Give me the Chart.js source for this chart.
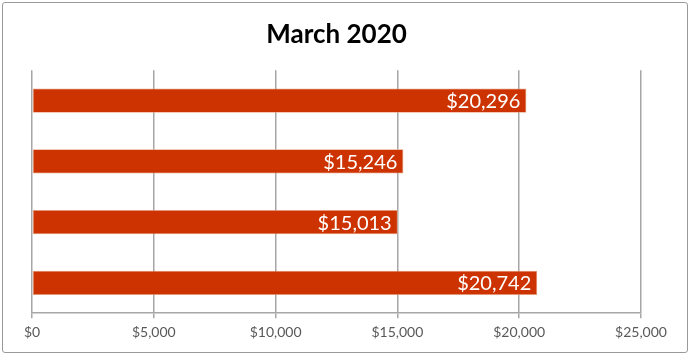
<!DOCTYPE html>
<html><head><meta charset="utf-8">
<script src="https://cdn.jsdelivr.net/npm/chart.js@4/dist/chart.umd.min.js"></script>
<style>
html,body{margin:0;padding:0;background:#fff;}
#wrap{position:absolute;left:0;top:0;width:691px;height:357px;}
#frame{position:absolute;left:2px;top:2px;width:684px;height:349px;border:1.5px solid #9a9a9a;border-radius:3px;pointer-events:none;}
</style></head>
<body>
<div id="wrap"><canvas id="c" width="691" height="357"></canvas><div id="frame"></div></div>
<script>
const categories = ['A', 'B', 'C', 'D'];
const values = [20296, 15246, 15013, 20742];
const tickValues = [0, 5000, 10000, 15000, 20000, 25000];
const titleText = 'March 2020';

const fmt = v => '$' + v.toLocaleString('en-US');

const labelPlugin = {
  id: 'barLabels',
  afterDatasetsDraw(chart) {
    const ctx = chart.ctx;
    const meta = chart.getDatasetMeta(0);
    ctx.save();
    ctx.font = '20px Lato, "Open Sans", sans-serif';
    ctx.fillStyle = '#ffffff';
    ctx.textAlign = 'right';
    ctx.textBaseline = 'middle';
    meta.data.forEach((bar, i) => {
      ctx.fillText(fmt(values[i]), bar.x - 6, bar.y + 1);
    });
    ctx.restore();
  }
};

new Chart(document.getElementById('c'), {
  type: 'bar',
  data: {
    labels: categories,
    datasets: [{
      data: values,
      backgroundColor: '#cc3300',
      borderColor: '#e8a080',
      borderWidth: 0.8,
      borderSkipped: false,
      barPercentage: 0.4,
      categoryPercentage: 1.0
    }]
  },
  options: {
    indexAxis: 'y',
    responsive: false,
    animation: false,
    devicePixelRatio: 1,
    layout: { padding: { left: 32, right: 50, top: 15, bottom: 10 } },
    plugins: {
      legend: { display: false },
      tooltip: { enabled: false },
      title: {
        display: true,
        text: titleText,
        color: '#000000',
        font: { family: 'Lato, "Open Sans", sans-serif', size: 26, weight: 'bold' },
        padding: { top: 4, bottom: 20 }
      }
    },
    scales: {
      x: {
        min: 0, max: 25000,
        afterBuildTicks: axis => { axis.ticks = tickValues.map(v => ({ value: v })); },
        ticks: {
          callback: v => fmt(v),
          color: '#595959',
          font: { family: 'Lato, "Open Sans", sans-serif', size: 14 },
          padding: 6,
          maxRotation: 0
        },
        grid: { color: '#a6a6a6', lineWidth: 1.5, drawTicks: true, tickLength: 5 },
        border: { display: true, color: '#a6a6a6', width: 1.5 }
      },
      y: {
        display: false
      }
    }
  },
  plugins: [labelPlugin]
});
</script>
</body></html>
